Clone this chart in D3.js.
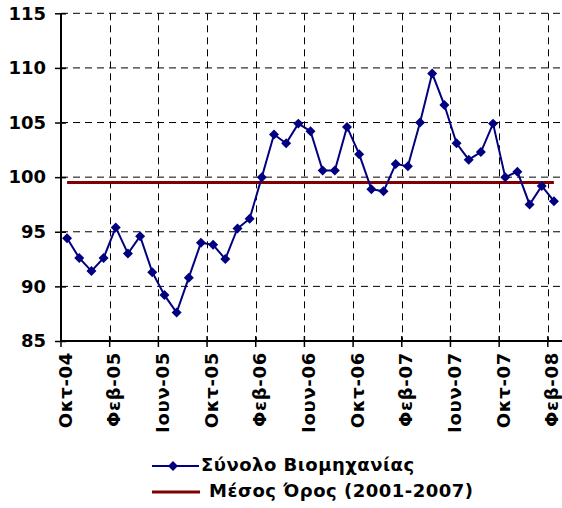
<!DOCTYPE html>
<html>
<head>
<meta charset="utf-8">
<script src="https://cdn.jsdelivr.net/npm/d3@7"></script>
<style>
  body { margin: 0; background: #fff; }
  text { font-family: "DejaVu Sans", Verdana, sans-serif; font-weight: bold; }
</style>
</head>
<body>
<svg id="chart" width="562" height="508"></svg>
<script>
const categories = [
    'Οκτ-04', 'Νοε-04', 'Δεκ-04',
    'Ιαν-05', 'Φεβ-05', 'Μαρ-05', 'Απρ-05', 'Μαϊ-05', 'Ιουν-05', 'Ιουλ-05', 'Αυγ-05', 'Σεπ-05', 'Οκτ-05', 'Νοε-05', 'Δεκ-05',
    'Ιαν-06', 'Φεβ-06', 'Μαρ-06', 'Απρ-06', 'Μαϊ-06', 'Ιουν-06', 'Ιουλ-06', 'Αυγ-06', 'Σεπ-06', 'Οκτ-06', 'Νοε-06', 'Δεκ-06',
    'Ιαν-07', 'Φεβ-07', 'Μαρ-07', 'Απρ-07', 'Μαϊ-07', 'Ιουν-07', 'Ιουλ-07', 'Αυγ-07', 'Σεπ-07', 'Οκτ-07', 'Νοε-07', 'Δεκ-07',
    'Ιαν-08', 'Φεβ-08'
];
const industryTotal = [
    94.4, 92.6, 91.4, 92.6, 95.4, 93.0, 94.6, 91.3, 89.2, 87.6,
    90.8, 94.0, 93.8, 92.5, 95.3, 96.2, 100.0, 103.9, 103.1, 104.9,
    104.2, 100.6, 100.6, 104.6, 102.1, 98.9, 98.7, 101.2, 101.0, 105.0,
    109.5, 106.6, 103.1, 101.6, 102.3, 104.9, 100.0, 100.5, 97.5, 99.2,
    97.8
];
const average = 99.5;
const yTicks = [85, 90, 95, 100, 105, 110, 115];
const labelEvery = 4;
const seriesNames = ['Σύνολο Βιομηχανίας', 'Μέσος Όρος (2001-2007)'];

const svg = d3.select('#chart');
const plotLeft = 61, plotRight = 560, plotTop = 13.3, plotBottom = 341;

const x = d3.scaleBand()
    .domain(categories)
    .range([plotLeft, plotRight])
    .paddingInner(0)
    .paddingOuter(0);
const cx = c => x(c) + x.bandwidth() / 2;

const y = d3.scaleLinear()
    .domain([85, 115])
    .range([plotBottom, plotTop]);

const shown = categories.filter((c, i) => i % labelEvery === 0);

//grid
const grid = svg.append('g');
grid.selectAll('line.h')
    .data(yTicks.filter(v => v > 85))
    .join('line')
    .attr('x1', plotLeft).attr('x2', plotRight)
    .attr('y1', d => y(d)).attr('y2', d => y(d))
    .attr('stroke', '#000').attr('stroke-width', 1)
    .attr('stroke-dasharray', '7,5');
grid.selectAll('line.v')
    .data(shown.slice(1))
    .join('line')
    .attr('x1', d => Math.round(x(d)) + 0.5).attr('x2', d => Math.round(x(d)) + 0.5)
    .attr('y1', plotTop).attr('y2', plotBottom)
    .attr('stroke', '#000').attr('stroke-width', 1)
    .attr('stroke-dasharray', '7,5');

//mean line
svg.append('path')
    .datum(categories)
    .attr('fill', 'none')
    .attr('stroke', '#800000')
    .attr('stroke-width', 3)
    .attr('d', d3.line().x(d => cx(d)).y(() => y(average)));

//series
const pts = categories.map((c, i) => ({ c, v: industryTotal[i] }));
svg.append('path')
    .datum(pts)
    .attr('fill', 'none')
    .attr('stroke', '#000080')
    .attr('stroke-width', 2)
    .attr('d', d3.line().x(d => cx(d.c)).y(d => y(d.v)));

const diamond = d3.symbol().type(d3.symbolSquare).size(50)();
svg.append('g')
    .selectAll('path')
    .data(pts)
    .join('path')
    .attr('d', diamond)
    .attr('transform', d => `translate(${cx(d.c)},${y(d.v)}) rotate(45)`)
    .attr('fill', '#000080');

//y axis
const yAxis = svg.append('g')
    .attr('transform', `translate(${plotLeft},0)`)
    .call(d3.axisLeft(y).tickValues(yTicks).tickSize(6).tickPadding(9));
yAxis.select('.domain').attr('stroke', '#000').attr('stroke-width', 2).attr('d', `M0,${plotTop}V${plotBottom}`);
yAxis.selectAll('.tick line').attr('x1', 5).attr('x2', -6).attr('stroke-width', 1.5);
yAxis.selectAll('.tick text')
    .attr('font-size', 18)
    .attr('font-family', '"DejaVu Sans", Verdana, sans-serif')
    .attr('font-weight', 'bold')
    .attr('fill', '#000');

//x axis
const xAxis = svg.append('g')
    .attr('transform', `translate(0,${plotBottom})`);
xAxis.append('line')
    .attr('x1', plotLeft).attr('x2', plotRight + 2)
    .attr('stroke', '#000').attr('stroke-width', 2);
xAxis.selectAll('line.tick')
    .data(shown)
    .join('line')
    .attr('x1', d => x(d)).attr('x2', d => x(d))
    .attr('y1', -5).attr('y2', 6)
    .attr('stroke', '#000').attr('stroke-width', 1.5);
xAxis.selectAll('text')
    .data(shown)
    .join('text')
    .attr('transform', d => `translate(${cx(d) + 4.5},11) rotate(-90)`)
    .attr('text-anchor', 'end')
    .attr('font-size', 18)
    .attr('letter-spacing', 0.7)
    .text(d => d);

//legend
const legend = svg.append('g');
legend.append('line')
    .attr('x1', 152).attr('x2', 199).attr('y1', 466).attr('y2', 466)
    .attr('stroke', '#000080').attr('stroke-width', 2);
legend.append('path')
    .attr('d', diamond)
    .attr('transform', 'translate(173,466) rotate(45)')
    .attr('fill', '#000080');
legend.append('text')
    .attr('x', 201).attr('y', 471)
    .attr('font-size', 18)
    .attr('letter-spacing', 0.5)
    .text(seriesNames[0]);
legend.append('line')
    .attr('x1', 152).attr('x2', 200).attr('y1', 492).attr('y2', 492)
    .attr('stroke', '#800000').attr('stroke-width', 3);
legend.append('text')
    .attr('x', 209).attr('y', 497)
    .attr('font-size', 18)
    .attr('letter-spacing', 0.5)
    .text(seriesNames[1]);
</script>
</body>
</html>
